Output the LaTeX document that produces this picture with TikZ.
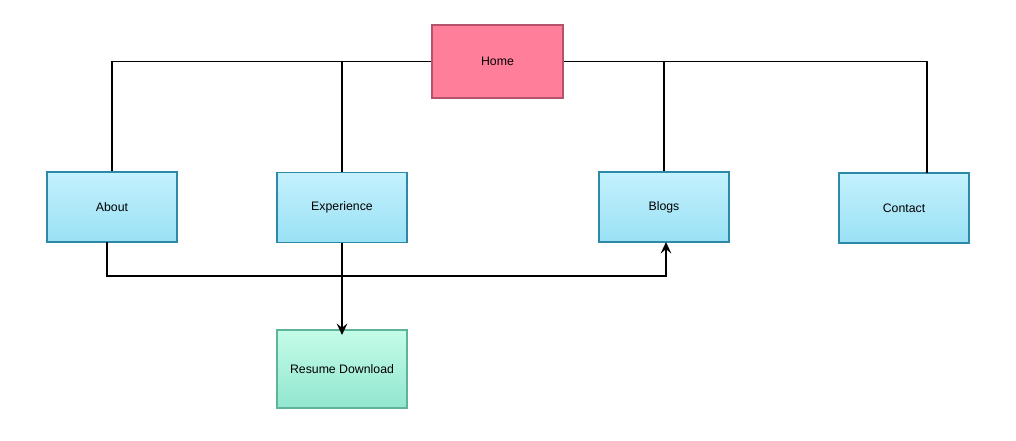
\documentclass[tikz,border=0pt]{standalone}
\usepackage{fontspec}
\usetikzlibrary{arrows.meta}
\setmainfont{Liberation Sans}
\definecolor{hcol}{RGB}{255,127,154}
\definecolor{hbor}{RGB}{181,82,108}
\definecolor{btop}{RGB}{196,241,253}
\definecolor{bbot}{RGB}{153,225,245}
\definecolor{bbor}{RGB}{46,137,168}
\definecolor{gtop}{RGB}{196,252,232}
\definecolor{gbot}{RGB}{145,230,207}
\definecolor{gbor}{RGB}{95,179,154}
\tikzset{page/.style={rectangle,draw,line width=1.1pt,minimum width=2.6cm,minimum height=1.4cm,font=\fontsize{7}{9}\selectfont,text=black}}
\tikzset{home/.style={page,fill=hcol,draw=hbor,minimum width=2.62cm,minimum height=1.46cm}}
\tikzset{sub/.style={page,draw=bbor,top color=btop,bottom color=bbot}}
\tikzset{dl/.style={page,draw=gbor,top color=gtop,bottom color=gbot,minimum height=1.56cm}}
\tikzset{edge/.style={line width=1.1pt}}
\tikzset{link/.style={edge,-{Stealth[length=6.5pt,width=6pt,inset=2.4pt]}}}

\begin{document}
\begin{tikzpicture}
\useasboundingbox (0,0) rectangle (20.32,-8.8);
\node [home] (h) at (9.95,-1.23) {Home};

\node [sub] (a) at (2.24,-4.14) {About};
\node [sub] (e) at (6.84,-4.15) {Experience};
\node [sub] (b) at (13.28,-4.14) {Blogs};
\node [sub] (c) at (18.08,-4.16) {Contact};

\node [dl] (r) at (6.84,-7.38) {Resume Download};

\coordinate (cn) at (18.54,-3.46);
\coordinate (as) at (2.14,-4.84);
\coordinate (bs) at (13.32,-4.84);
\coordinate (rt) at (6.84,-6.7);

\draw [edge] (h.west) -| (a.north);
\draw [edge] (h.west) -| (e.north);
\draw [edge] (h.east) -| (b.north);
\draw [edge] (h.east) -| (cn);

\draw [link] (as) |- (13.32,-5.52) -- (bs);
\draw [link] (e.south) -- (rt);
\end{tikzpicture}
\end{document}
